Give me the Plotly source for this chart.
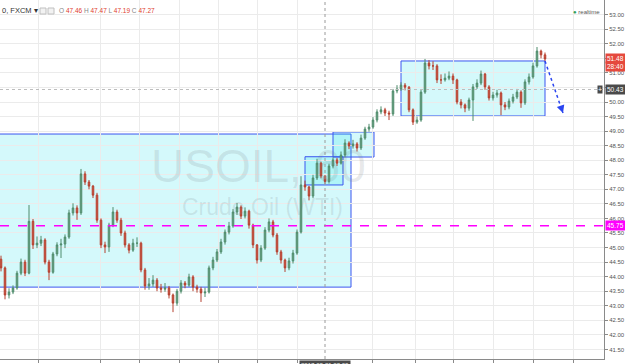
import plotly.graph_objects as go

# ---------------- data ----------------
closes = [
    44.30, 43.37, 43.47, 43.61, 44.12, 44.50, 44.12, 45.90, 45.09, 45.15,
    45.26, 44.50, 44.15, 44.78, 45.09, 45.12, 45.36, 46.19, 46.36, 46.19,
    47.53, 47.25, 47.11, 46.80, 45.94, 45.09, 45.02, 45.77, 46.22, 45.94,
    45.50, 45.09, 44.91, 45.15, 45.15, 44.23, 43.68, 43.75, 43.88, 43.61,
    43.57, 43.61, 43.37, 43.09, 43.50, 43.78, 43.71, 43.99, 43.64, 43.57,
    43.44, 43.47, 44.30, 44.57, 44.85, 45.19, 45.53, 45.74, 46.22, 46.39,
    46.08, 46.25, 45.77, 45.09, 44.57, 44.98, 45.60, 45.88, 45.43, 44.85,
    44.57, 44.30, 44.54, 44.81, 45.53, 47.15, 47.08, 46.77, 47.39, 47.90,
    47.46, 47.27, 47.80, 48.01, 47.90, 48.18, 48.59, 48.49, 48.56, 48.42,
    48.76, 49.07, 49.14, 49.38, 49.66, 49.73, 49.62, 49.59, 50.38, 50.45,
    50.58, 50.51, 49.73, 49.31, 49.38, 50.34, 51.34, 51.24, 51.24, 50.76,
    50.76, 50.82, 50.89, 50.76, 50.00, 49.90, 49.79, 50.07, 50.52, 50.65,
    50.96, 50.52, 50.14, 50.24, 50.31, 49.90, 49.83, 50.03, 50.17, 50.34,
    49.97, 50.69, 50.86, 51.24, 51.75, 51.62, 51.48,
]
highs = [
    44.72, 44.35, 43.60, 43.70, 44.20, 44.62, 44.58, 46.46, 45.98, 45.38,
    45.40, 45.32, 44.58, 44.85, 45.18, 45.30, 45.45, 46.30, 46.52, 46.45,
    47.70, 47.62, 47.32, 47.15, 46.88, 46.00, 45.20, 45.85, 46.39, 46.30,
    46.02, 45.58, 45.15, 45.30, 45.35, 45.20, 44.30, 43.95, 44.05, 43.95,
    43.75, 43.78, 43.68, 43.42, 43.58, 43.88, 43.85, 44.10, 44.05, 43.72,
    43.65, 43.62, 44.38, 44.68, 44.95, 45.30, 45.62, 45.88, 46.32, 46.53,
    46.45, 46.38, 46.30, 45.82, 45.12, 45.08, 45.70, 46.00, 45.95, 45.50,
    44.92, 44.62, 44.65, 44.92, 45.62, 47.45, 47.30, 47.12, 47.50, 48.05,
    47.95, 47.47, 47.88, 48.10, 48.08, 48.30, 48.72, 48.65, 48.70, 48.62,
    48.88, 49.15, 49.25, 49.48, 49.75, 49.85, 49.80, 49.70, 50.45, 50.58,
    50.68, 50.65, 50.55, 49.78, 49.50, 50.42, 51.48, 51.44, 51.40, 51.30,
    50.95, 50.98, 51.05, 50.98, 50.80, 50.10, 49.95, 50.15, 50.62, 50.78,
    51.08, 51.00, 50.58, 50.35, 50.42, 50.36, 50.00, 50.12, 50.28, 50.45,
    50.40, 50.78, 50.98, 51.35, 51.89, 51.80, 51.70,
]
lows = [
    44.18, 43.22, 43.25, 43.40, 43.55, 44.05, 44.02, 44.08, 44.95, 44.98,
    45.05, 44.42, 43.88, 44.10, 44.70, 44.64, 44.98, 45.30, 46.10, 45.95,
    46.12, 47.15, 47.00, 46.70, 45.85, 44.98, 44.81, 44.85, 45.70, 45.85,
    45.40, 45.00, 44.80, 44.85, 45.02, 44.15, 43.55, 43.55, 43.65, 43.50,
    43.45, 43.48, 43.25, 42.78, 43.00, 43.42, 43.60, 43.65, 43.50, 43.45,
    43.13, 43.30, 43.42, 44.22, 44.50, 44.78, 45.10, 45.45, 45.68, 46.12,
    45.98, 46.00, 45.65, 44.98, 44.45, 44.50, 44.92, 45.52, 45.35, 44.75,
    44.45, 44.16, 44.22, 44.45, 44.75, 45.48, 46.95, 46.62, 46.70, 47.32,
    47.38, 47.19, 47.20, 47.72, 47.80, 47.85, 48.10, 48.38, 48.40, 48.30,
    48.35, 48.70, 48.98, 49.08, 49.30, 49.58, 49.52, 49.38, 49.52, 50.30,
    50.38, 50.40, 49.65, 49.21, 49.25, 49.32, 50.28, 51.12, 51.10, 50.65,
    50.62, 50.70, 50.75, 50.62, 49.92, 49.78, 49.65, 49.70, 49.35, 50.45,
    50.58, 50.42, 50.05, 50.05, 50.15, 49.55, 49.72, 49.75, 49.95, 50.10,
    49.80, 49.90, 50.60, 50.80, 51.18, 51.50, 51.40,
]
first_open = 44.60
opens = [first_open] + closes[:-1]
bars = list(range(len(closes)))

# x-axis ticks (bar positions) and labels
x_tick_pos = [9.25, 24.75, 34.5, 44.5, 54.25, 64, 74, 92.75, 103.5, 113, 123, 133, 143]
x_tick_text = ["13", "15", "12:00", "18", "12:00", "20", "21", "12:00", "26", "12:00", "27", "12:00", "28"]

# y-axis ticks (labels hidden where the price tags cover them)
y_ticks = [41.5 + 0.5 * k for k in range(24)]
y_hidden = [50.5, 51.5]
y_tick_text = ["" if v in y_hidden else "%.2f" % v for v in y_ticks]

# drawings: rectangles [x0, x1, y0, y1]
box_big = [-2, 87.5, 43.64, 48.90]
box_2 = [76, 85.5, 47.15, 48.12]
box_3 = [83, 93.25, 48.11, 48.97]
box_4 = [100, 136, 49.52, 51.41]
arrow_x = [136, 140.5]
arrow_y = [51.41, 49.62]
hline_level = 45.75
cross_bar = 81
cross_price = 50.43
ohlc_text = ["47.46", "47.47", "47.19", "47.27"]

X_RANGE = [-0.25, 150.75]
Y_RANGE = [41.17, 53.505]

FONT = "Liberation Sans, Arial, sans-serif"
UP_FILL, UP_LINE = "#6ba583", "#4f8c6c"
DN_FILL, DN_LINE = "#d75442", "#b5402f"
BOX_LINE = "#3b55f0"
BOX_FILL = "rgba(0,220,230,0.17)"

fig = go.Figure()
fig.add_trace(go.Candlestick(
    x=bars, open=opens, high=highs, low=lows, close=closes,
    increasing=dict(line=dict(color=UP_LINE, width=1), fillcolor=UP_FILL),
    decreasing=dict(line=dict(color=DN_LINE, width=1), fillcolor=DN_FILL),
    whiskerwidth=0, showlegend=False, hoverinfo="skip",
))
fig.add_trace(go.Scatter(
    x=arrow_x, y=arrow_y, mode="lines",
    line=dict(color="#2a45f0", width=1.5, dash="dot"),
    showlegend=False, hoverinfo="skip",
))

shapes = []
for b in (box_big, box_2, box_3, box_4):
    shapes.append(dict(type="rect", xref="x", yref="y", x0=b[0], x1=b[1], y0=b[2], y1=b[3],
                       fillcolor=BOX_FILL, line=dict(color=BOX_LINE, width=1), layer="below"))
shapes.append(dict(type="line", xref="paper", yref="y", x0=0, x1=1, y0=hline_level, y1=hline_level,
                   line=dict(color="#ff00ff", width=1.4, dash="dash")))
shapes.append(dict(type="line", xref="x", yref="paper", x0=cross_bar, x1=cross_bar, y0=0, y1=1,
                   line=dict(color="#9a9a9a", width=1, dash="dot")))
shapes.append(dict(type="line", xref="paper", yref="y", x0=0, x1=1, y0=cross_price, y1=cross_price,
                   line=dict(color="#bdbdbd", width=1, dash="dot")))
# header icons
PW, PH = 604.0, 359.0
for x0 in (40, 48):
    shapes.append(dict(type="rect", xref="paper", yref="paper",
                       x0=x0 / PW, x1=(x0 + 6) / PW, y0=1 - 14 / PH, y1=1 - 8 / PH,
                       fillcolor="#f2f2f2", line=dict(color="#c0c0c0", width=1)))

ann = []
# watermark
ann.append(dict(xref="paper", yref="paper", x=258 / PW, y=1 - 166 / PH, text="USOIL, 60",
                showarrow=False, font=dict(family=FONT, size=46, color="rgba(110,120,125,0.16)")))
ann.append(dict(xref="paper", yref="paper", x=262 / PW, y=1 - 207 / PH, text="Crude Oil (WTI)",
                showarrow=False, font=dict(family=FONT, size=23, color="rgba(110,120,125,0.16)")))
# header
ann.append(dict(xref="paper", yref="paper", x=0, y=1 - 11 / PH, xanchor="left", yanchor="middle",
                text="0, FXCM ▾", showarrow=False, font=dict(family=FONT, size=7.5, color="#333")))
g, r = "#888", "#e0402f"
ohlc_html = " ".join('<span style="color:%s">%s</span> <span style="color:%s">%s</span>' % (g, k, r, v)
                     for k, v in zip(["O", "H", "L", "C"], ohlc_text))
ann.append(dict(xref="paper", yref="paper", x=57 / PW, y=1 - 11 / PH, xanchor="left", yanchor="middle",
                text=ohlc_html, showarrow=False, font=dict(family=FONT, size=6.5, color=r)))
# realtime
ann.append(dict(xref="paper", yref="paper", x=1 - 2 / PW, y=1 - 12 / PH, xanchor="right", yanchor="middle",
                text='<span style="color:#2e9e5a">●</span> realtime', showarrow=False,
                font=dict(family=FONT, size=6, color="#555")))
# price labels on right axis
def price_label(y, text, bg, yshift=0):
    return dict(xref="paper", yref="y", x=1, y=y, xanchor="left", yanchor="middle", xshift=1,
                yshift=yshift, text=text, showarrow=False, bgcolor=bg, borderpad=1,
                font=dict(family=FONT, size=6.5, color="white"))
ann.append(price_label(closes[-1], "%.2f" % closes[-1], "#e5493d"))
ann.append(price_label(closes[-1], "28:40", "#e5493d", yshift=-8))
ann.append(price_label(cross_price, "%.2f" % cross_price, "#4a4a4a"))
ann.append(price_label(hline_level, "%.2f" % hline_level, "#ff00ff"))
ann.append(dict(xref="paper", yref="y", x=1, y=cross_price, xanchor="right", yanchor="middle", xshift=-1,
                text="+", showarrow=False, bgcolor="#4a4a4a", borderpad=0,
                font=dict(family=FONT, size=7, color="white")))
# crosshair date label
ann.append(dict(xref="x", yref="paper", x=cross_bar, y=0, xanchor="center", yanchor="top", yshift=-1,
                text="2017-09-21 08:00", showarrow=False, bgcolor="#4a4a4a", borderpad=1,
                font=dict(family=FONT, size=6, color="white")))
# arrow head
ann.append(dict(xref="x", yref="y", x=arrow_x[1], y=arrow_y[1], ax=-2, ay=-6, showarrow=True,
                arrowhead=2, arrowsize=1.3, arrowwidth=1.2, arrowcolor="#2a45f0", standoff=0, text=""))

fig.update_layout(
    width=625, height=364, autosize=False,
    margin=dict(l=0, r=21, t=0, b=5, pad=0),
    paper_bgcolor="white", plot_bgcolor="white",
    shapes=shapes, annotations=ann, showlegend=False,
    font=dict(family=FONT), boxgap=0.45,
    xaxis=dict(range=X_RANGE, rangeslider=dict(visible=False), tickmode="array", automargin=False,
               tickvals=x_tick_pos, ticktext=x_tick_text, showgrid=True, gridcolor="#ebebeb",
               gridwidth=1, zeroline=False, showline=True, linecolor="#8a8a8a", ticks="outside",
               ticklen=3, tickcolor="#8a8a8a", tickfont=dict(size=6, color="#555")),
    yaxis=dict(range=Y_RANGE, side="right", tickmode="array", tickvals=y_ticks, ticktext=y_tick_text,
               automargin=False,
               showgrid=True, gridcolor="#ebebeb", gridwidth=1, zeroline=False, showline=True,
               linecolor="#8a8a8a", ticks="outside", ticklen=3, tickcolor="#8a8a8a",
               tickfont=dict(size=6, color="#555")),
)
fig.write_html("out.html")
